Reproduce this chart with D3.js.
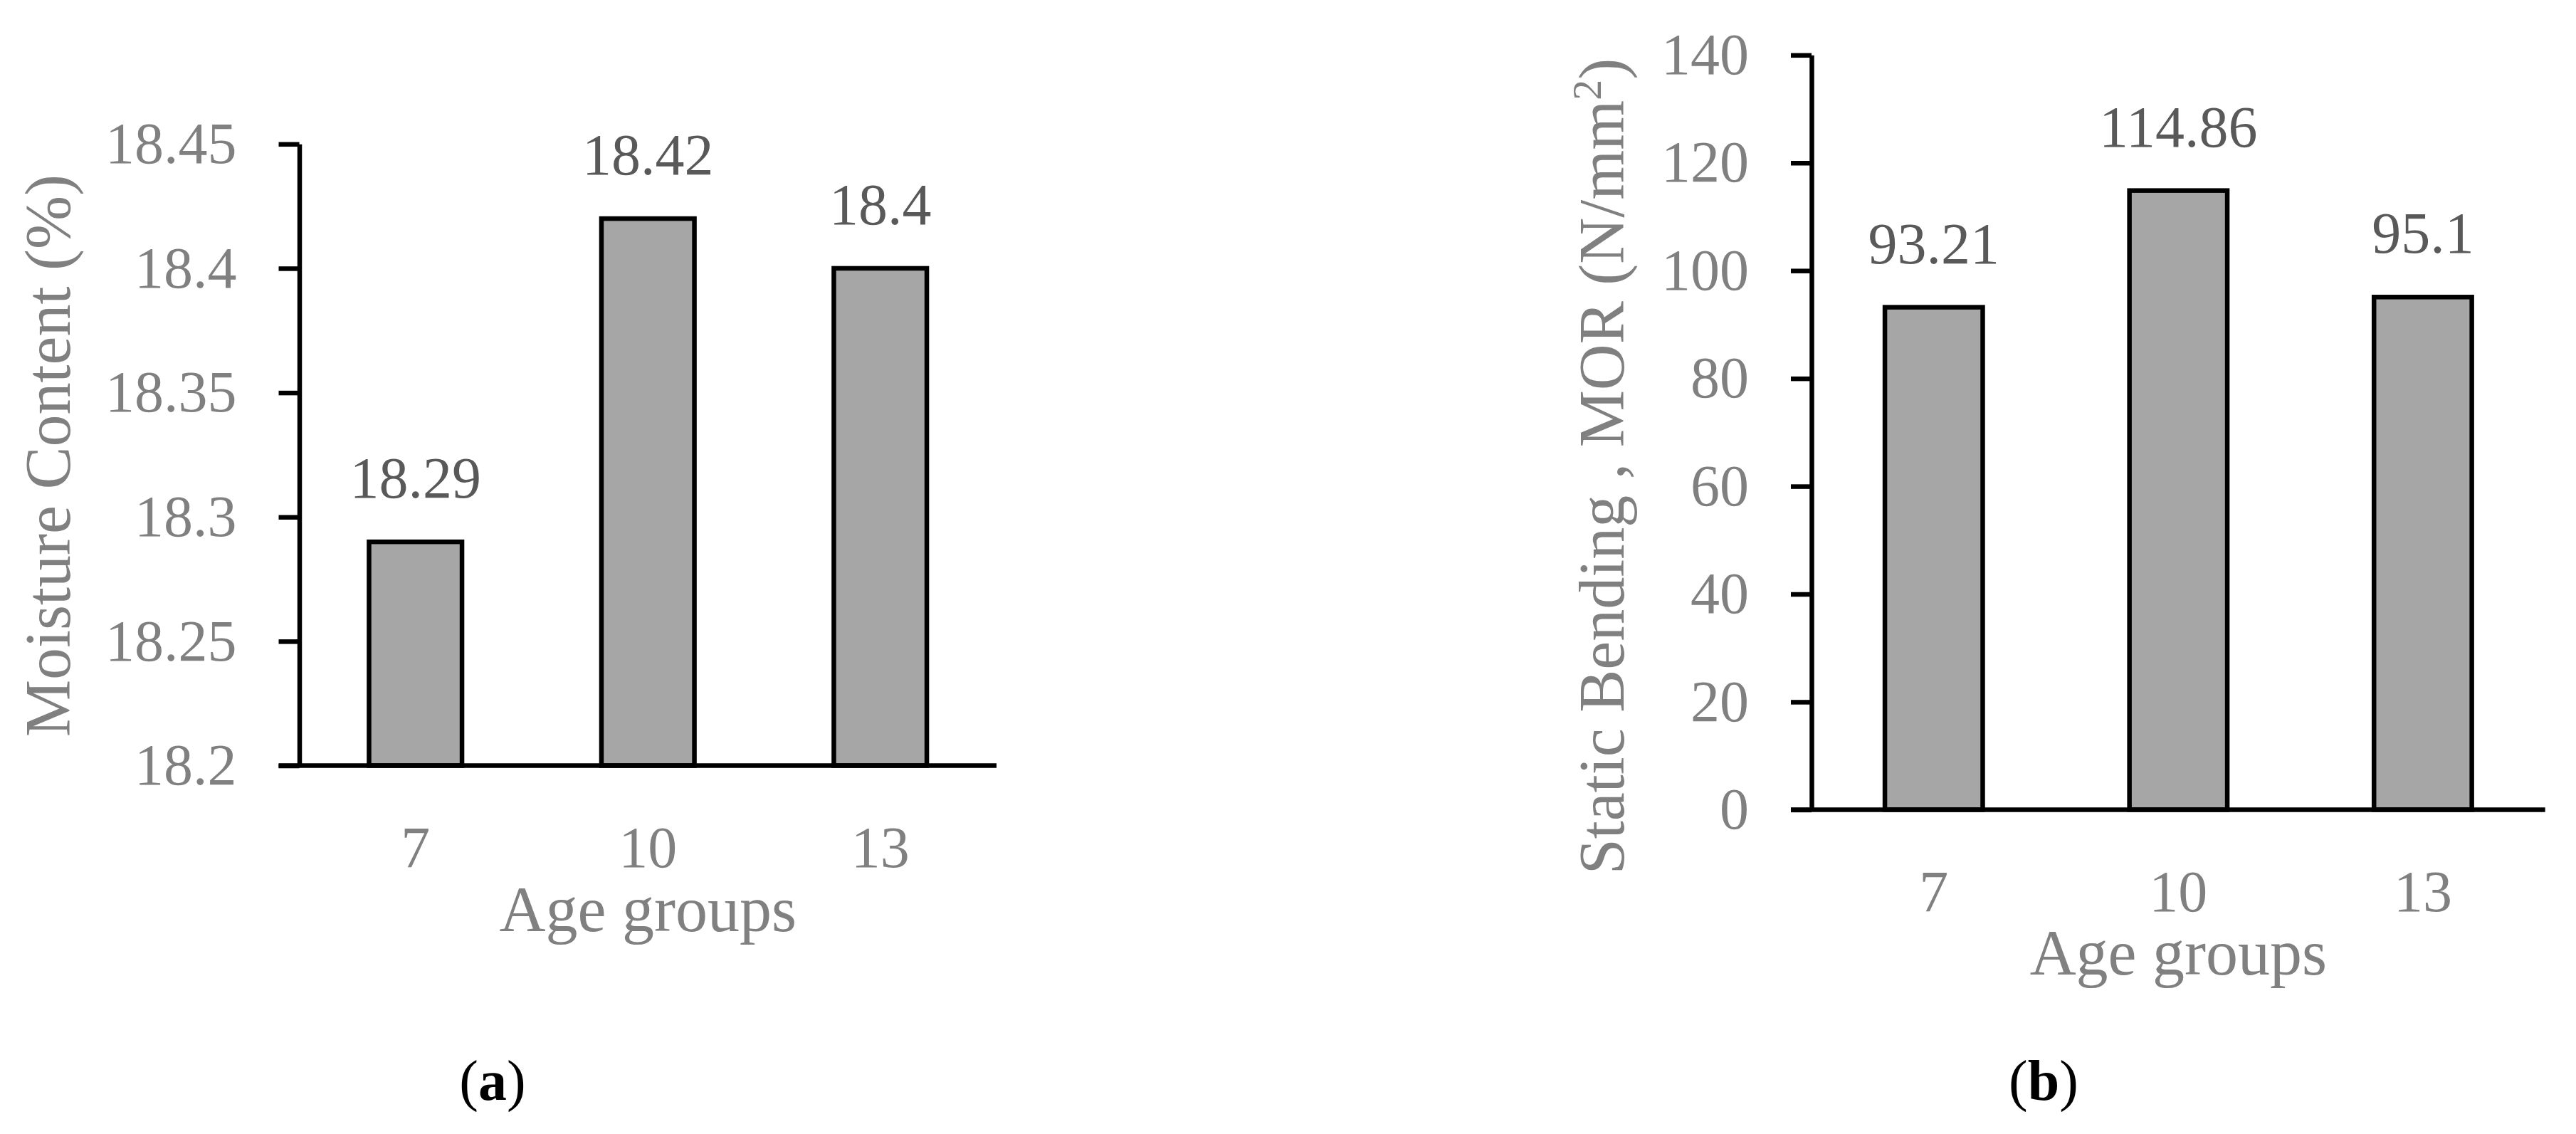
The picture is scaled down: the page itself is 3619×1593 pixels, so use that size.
<!DOCTYPE html>
<html>
<head>
<meta charset="utf-8">
<script src="https://cdn.jsdelivr.net/npm/d3@7"></script>
<style>
  html, body { margin: 0; padding: 0; background: #fff; }
  svg { display: block; }
  text { font-family: "Liberation Serif", "Times New Roman", serif; }
</style>
</head>
<body>
<svg id="chart" width="3619" height="1593"></svg>
<script>
// ---------- DATA ----------
const categories = ["7", "10", "13"];
const moistureValues = [18.29, 18.42, 18.4];
const morValues = [93.21, 114.86, 95.1];
const moistureTicks = [18.2, 18.25, 18.3, 18.35, 18.4, 18.45];
const moistureTickLabels = ["18.2", "18.25", "18.3", "18.35", "18.4", "18.45"];
const morTicks = [0, 20, 40, 60, 80, 100, 120, 140];
const morTickLabels = ["0", "20", "40", "60", "80", "100", "120", "140"];
const moistureLabels = ["18.29", "18.42", "18.4"];
const morLabels = ["93.21", "114.86", "95.1"];

// ---------- STYLE ----------
const AXIS_GRAY = "#808080";
const LABEL_GRAY = "#595959";
const BAR_FILL = "#a6a6a6";
const NUM_SIZE = 82;
const TITLE_SIZE = 90;
const LINE_W = 6.5;

const svg = d3.select("#chart");
svg.append("rect").attr("width", 3619).attr("height", 1593).attr("fill", "#fff");

function drawPanel(cfg) {
  const g = svg.append("g");
  const x = d3.scaleBand().domain(categories).range([cfg.x0, cfg.x1])
    .paddingInner(0.6).paddingOuter(0.3);
  const y = d3.scaleLinear().domain(cfg.domain).range([cfg.y0, cfg.y1]);

  // bars
  g.selectAll("rect.bar").data(cfg.values).enter().append("rect")
    .attr("class", "bar")
    .attr("x", (d, i) => x(categories[i]))
    .attr("y", d => y(d))
    .attr("width", x.bandwidth())
    .attr("height", d => y(cfg.domain[0]) - y(d))
    .attr("fill", BAR_FILL)
    .attr("stroke", "#000")
    .attr("stroke-width", LINE_W);

  // y axis
  const yAxis = d3.axisLeft(y).tickValues(cfg.ticks)
    .tickFormat((d, i) => cfg.tickLabels[i])
    .tickSize(29).tickSizeOuter(0).tickPadding(59);
  const ya = g.append("g").attr("transform", `translate(${cfg.x0},0)`).call(yAxis);
  ya.select(".domain").attr("stroke", "#000").attr("stroke-width", LINE_W);
  ya.selectAll(".tick line").attr("stroke", "#000").attr("stroke-width", LINE_W);
  ya.selectAll(".tick text").attr("fill", AXIS_GRAY)
    .style("font-size", NUM_SIZE + "px").style("font-family", "Liberation Serif");

  // x axis
  const xAxis = d3.axisBottom(x).tickSize(0).tickSizeOuter(0).tickPadding(84);
  const xa = g.append("g").attr("transform", `translate(0,${cfg.y0})`).call(xAxis);
  xa.select(".domain").attr("stroke", "#000").attr("stroke-width", LINE_W)
    .attr("d", `M${cfg.x0 - 29},0H${cfg.x1}`);
  xa.selectAll(".tick text").attr("fill", AXIS_GRAY)
    .style("font-size", NUM_SIZE + "px").style("font-family", "Liberation Serif");

  // data labels
  g.selectAll("text.dl").data(cfg.values).enter().append("text")
    .attr("class", "dl")
    .attr("x", (d, i) => x(categories[i]) + x.bandwidth() / 2)
    .attr("y", d => y(d) - 62)
    .attr("text-anchor", "middle")
    .attr("fill", LABEL_GRAY)
    .style("font-size", NUM_SIZE + "px")
    .text((d, i) => cfg.labels[i]);

  // x title
  g.append("text")
    .attr("x", (cfg.x0 + cfg.x1) / 2)
    .attr("y", cfg.y0 + 232)
    .attr("text-anchor", "middle")
    .attr("fill", AXIS_GRAY)
    .style("font-size", TITLE_SIZE + "px")
    .text("Age groups");

  // y title
  const yt = g.append("text")
    .attr("transform", `translate(${cfg.ytX},${cfg.ytY}) rotate(-90)`)
    .attr("text-anchor", "middle")
    .attr("fill", AXIS_GRAY)
    .style("font-size", TITLE_SIZE + "px");
  cfg.yTitle(yt);

  // panel letter
  const pl = g.append("text")
    .attr("x", cfg.letterX).attr("y", 1545)
    .attr("text-anchor", "middle")
    .attr("fill", "#000")
    .style("font-size", "80px");
  pl.append("tspan").text("(");
  pl.append("tspan").attr("font-weight", "bold").text(cfg.letter);
  pl.append("tspan").text(")");
}

drawPanel({
  x0: 420.5, x1: 1400, y0: 1075.5, y1: 202.3,
  domain: [18.2, 18.45], ticks: moistureTicks, tickLabels: moistureTickLabels,
  values: moistureValues, labels: moistureLabels,
  ytX: 98, ytY: 640,
  yTitle: t => t.text("Moisture Content (%)"),
  letterX: 692, letter: "a"
});

drawPanel({
  x0: 2545, x1: 3575.7, y0: 1137.4, y1: 77.3,
  domain: [0, 140], ticks: morTicks, tickLabels: morTickLabels,
  values: morValues, labels: morLabels,
  ytX: 2281, ytY: 655,
  yTitle: t => {
    t.append("tspan").text("Static Bending , MOR (N/mm");
    t.append("tspan").attr("baseline-shift", "super").style("font-size", "58px").text("2");
    t.append("tspan").text(")");
  },
  letterX: 2871, letter: "b"
});
</script>
</body>
</html>
